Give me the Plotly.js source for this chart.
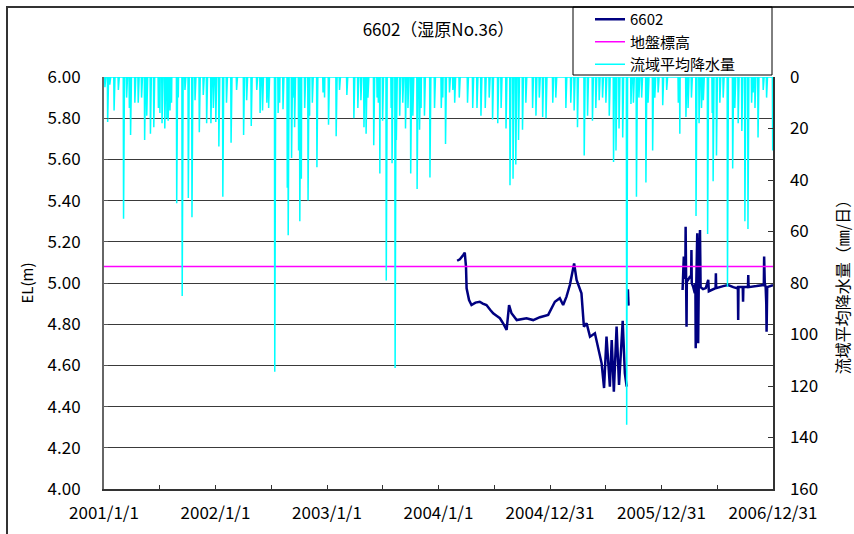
<!DOCTYPE html>
<html><head><meta charset="utf-8">
<script src="https://cdn.plot.ly/plotly-3.0.1.min.js"></script>
<style>
html,body{margin:0;padding:0;background:#fff;overflow:hidden;width:854px;height:534px}
#frame{position:absolute;left:6px;top:6px;width:900px;height:600px;border:2px solid #333;box-sizing:border-box}
#chart{position:absolute;left:0;top:0;width:854px;height:534px}
</style></head><body>
<div id="frame"></div>
<div id="chart"></div>
<script>
// ---- Data ----
const xTickVals = ['2001-01-01','2002-01-01','2003-01-01','2004-01-01','2004-12-31','2005-12-31','2006-12-31'];
const xTickText = ['2001/1/1','2002/1/1','2003/1/1','2004/1/1','2004/12/31','2005/12/31','2006/12/31'];

const groundLevel = 5.08; // 地盤標高

// 6602 water level (m)
const wlDates = [
 '2004-03-02','2004-03-11','2004-03-22','2004-03-27','2004-03-31','2004-04-02','2004-04-10','2004-04-18',
 '2004-05-01','2004-05-15','2004-05-25','2004-06-06','2004-06-18','2004-06-28','2004-07-10','2004-07-20',
 '2004-08-01','2004-08-11','2004-08-19','2004-08-27','2004-09-13','2004-09-28','2004-10-15','2004-11-06',
 '2004-11-28','2004-12-25','2005-01-16','2005-02-01','2005-02-12','2005-02-23','2005-03-06','2005-03-20',
 '2005-03-28','2005-04-13','2005-04-21','2005-04-30','2005-05-11','2005-05-27','2005-06-07','2005-06-18',
 '2005-06-26','2005-07-04','2005-07-15','2005-07-21','2005-07-28','2005-08-06','2005-08-14','2005-08-26',
 '2005-09-02','2005-09-08','2005-09-10','2005-09-12','2005-09-14','2005-09-16',
 '2006-03-10','2006-03-11','2006-03-14','2006-03-16','2006-03-19','2006-03-20','2006-03-21','2006-03-23',
 '2006-03-24','2006-03-28','2006-04-03','2006-04-07','2006-04-08','2006-04-09','2006-04-14','2006-04-19',
 '2006-04-21','2006-04-22','2006-04-24','2006-04-27','2006-04-28','2006-04-30','2006-05-02','2006-05-06',
 '2006-05-08','2006-05-16','2006-05-25','2006-06-02','2006-06-04','2006-06-18','2006-06-26','2006-06-27',
 '2006-06-28','2006-07-21','2006-08-06','2006-08-23','2006-09-03','2006-09-07','2006-09-08','2006-09-09',
 '2006-09-23','2006-09-24','2006-09-25','2006-10-10','2006-10-11','2006-10-12','2006-11-07','2006-11-29',
 '2006-12-01','2006-12-02','2006-12-04','2006-12-07','2006-12-09','2006-12-10','2006-12-12','2006-12-26',
 '2006-12-31'
];
const wlValues = [
 5.108,5.115,5.136,5.147,5.080,4.974,4.917,4.893,
 4.905,4.909,4.900,4.893,4.870,4.853,4.840,4.829,
 4.800,4.772,4.893,4.853,4.820,4.825,4.829,4.820,
 4.834,4.845,4.909,4.926,4.893,4.934,4.990,5.095,
 5.015,4.950,4.788,4.804,4.739,4.756,4.675,4.610,
 4.490,4.740,4.497,4.723,4.472,4.788,4.505,4.817,
 4.562,4.497,null,4.970,4.890,null,
 4.966,5.030,5.128,5.020,5.050,5.273,5.000,4.788,
 5.020,5.015,5.030,5.030,5.160,5.000,4.980,4.950,
 5.000,4.683,5.000,5.241,5.000,4.707,5.000,5.257,
 4.980,4.970,4.975,5.015,4.960,4.970,4.975,5.047,
 4.975,4.985,4.990,4.980,4.975,4.980,4.820,4.980,
 4.980,4.909,4.980,4.980,5.039,4.980,4.985,4.990,
 5.000,5.128,5.000,4.980,4.900,4.764,4.980,4.985,
 4.990
];

// 流域平均降水量 (mm/日): rain days; other days 0
const rainDates = [
 '2001-01-04','2001-01-13','2001-01-20','2001-02-03','2001-02-17','2001-03-06','2001-03-16','2001-03-25','2001-03-29',
 '2001-04-12','2001-04-23','2001-05-04','2001-05-14','2001-05-21','2001-06-02','2001-06-13','2001-06-28','2001-07-03',
 '2001-07-10','2001-07-19','2001-07-26','2001-07-30','2001-08-05','2001-08-10','2001-08-27','2001-09-01','2001-09-14',
 '2001-09-23','2001-10-04','2001-10-16','2001-10-26','2001-11-09','2001-11-22','2001-12-03','2001-12-17','2001-12-25',
 '2002-01-02','2002-01-12','2002-01-25','2002-02-06','2002-02-21','2002-03-11','2002-04-03','2002-04-13','2002-04-28',
 '2002-05-16','2002-05-27','2002-06-04','2002-06-18','2002-06-24','2002-07-14','2002-07-25','2002-07-30','2002-08-10',
 '2002-08-24','2002-08-27','2002-09-07','2002-09-11','2002-09-17','2002-09-30','2002-10-04','2002-10-09','2002-10-20',
 '2002-10-31','2002-11-05','2002-11-14','2002-11-29','2002-12-19','2002-12-24',
 '2003-01-06','2003-01-31','2003-02-11','2003-03-07','2003-03-30','2003-04-12','2003-04-22','2003-05-02','2003-05-09',
 '2003-05-15','2003-06-03','2003-06-14','2003-06-18','2003-06-23','2003-07-02','2003-07-14','2003-07-30','2003-08-02',
 '2003-08-12','2003-08-16','2003-08-27','2003-09-06','2003-09-15','2003-09-23','2003-10-02','2003-10-09','2003-10-23',
 '2003-10-31','2003-11-05','2003-11-16','2003-12-04','2003-12-19',
 '2004-01-10','2004-01-15','2004-01-24','2004-02-06','2004-02-17','2004-02-23','2004-03-09','2004-04-05','2004-04-22',
 '2004-05-06','2004-05-19','2004-06-02','2004-06-15','2004-06-26','2004-07-13','2004-07-24','2004-08-09','2004-08-22',
 '2004-09-01','2004-09-10','2004-09-19','2004-10-02','2004-10-13','2004-11-04','2004-11-15','2004-11-26','2004-12-07',
 '2004-12-18',
 '2005-01-09','2005-01-19','2005-02-21','2005-03-09','2005-03-20','2005-03-31','2005-04-22','2005-05-03','2005-05-19',
 '2005-05-30','2005-06-10','2005-06-21','2005-07-02','2005-07-13','2005-07-27','2005-08-04','2005-08-14','2005-08-26',
 '2005-09-08','2005-09-22','2005-09-30','2005-10-10','2005-10-18','2005-10-27','2005-11-10','2005-11-17','2005-12-02',
 '2005-12-09','2005-12-20',
 '2006-01-04','2006-01-17','2006-02-24','2006-03-01','2006-03-21','2006-03-28','2006-04-08','2006-04-23','2006-05-03',
 '2006-05-11','2006-05-17','2006-05-31','2006-06-15','2006-06-18','2006-06-29','2006-07-10','2006-07-21','2006-08-04',
 '2006-08-21','2006-08-28','2006-09-08','2006-09-20','2006-09-30','2006-10-10','2006-10-22','2006-10-27','2006-11-02',
 '2006-11-12','2006-11-29','2006-12-10','2006-12-30'
];
const rainValues = [
 4,17.5,3,13,5,55,8,12,22.5,
 10,10,8,24.5,15,22,19.5,12,14,
 18,20,16,17,13,10,49,8,85,
 5,47,54.5,9,21.5,7,18,18,12,
 17.5,27,46.5,10,25.5,5,22.5,9,19,
 5,14,13,10,12,114.5,14,10,12.5,
 43,61.5,31.5,8,19.5,28.5,56,39.5,12,
 48,15,10,35,6,8,
 18.5,23,5,7,16,12,9,19.5,22,
 8,26.5,8,10,37.5,17,79,12,33.5,
 113,24.5,15,10,20,12,37.5,15,43.5,
 20.5,12,15,39,12,
 12,8,26,6,5,10,8,10,12,
 12,15,12,8,16.5,18,12,20,42,
 39.5,34,24.5,20.5,10,12,15,8,15.5,
 16,
 10,8,12,10,13,19.5,30.5,15,17,
 12,9,8,10,15,33,28.5,20,23.5,
 135,10.5,10,46.5,8,8,41,10,28.5,
 8,6,
 11,5,10,22,15.5,12,8,54,18,
 12,9,61,14,40.5,30.5,10,8,81.5,
 35.5,12,18,21,56,59,10,6,12,
 23.5,5,8,28.5
];

// ---- Build daily rainfall table from the read values ----
const rainMap = {};
rainDates.forEach((d, i) => { rainMap[d] = Math.max(rainMap[d] || 0, rainValues[i]); });
const dayX = [], dayY = [];
for (let t = Date.UTC(2001, 0, 1); t <= Date.UTC(2006, 11, 31); t += 864e5) {
  const s = new Date(t).toISOString().slice(0, 10);
  dayX.push(s); dayY.push(rainMap[s] || 0);
}

const FONT = '"Noto Sans CJK JP", "Noto Sans", sans-serif';

// paper spans y = 0..489 px (margin t = 0); plot area occupies 77..489 px
const PAPER_H = 489;
const py = (pix) => (PAPER_H - pix) / PAPER_H;      // pixel row -> paper fraction
const px = (pix) => (pix - 104) / 669;              // pixel col -> paper fraction
const domTop = py(77);

const traces = [
  {x: wlDates, y: wlValues, name: '6602', type: 'scatter', mode: 'lines',
   line: {color: '#000080', width: 2.5}, connectgaps: false, yaxis: 'y'},
  {x: [xTickVals[0], xTickVals[xTickVals.length - 1]], y: [groundLevel, groundLevel], name: '地盤標高',
   type: 'scatter', mode: 'lines', line: {color: '#FF00FF', width: 1.5}, yaxis: 'y'},
  {x: dayX, y: dayY, name: '流域平均降水量', type: 'scatter', mode: 'lines',
   line: {color: '#00FFFF', width: 1.5}, yaxis: 'y2'}
];

const layout = {
  width: 854, height: 534,
  margin: {l: 104, r: 81, t: 0, b: 45, pad: 0},
  paper_bgcolor: 'rgba(0,0,0,0)', plot_bgcolor: 'rgba(0,0,0,0)',
  font: {family: FONT, size: 15, color: '#000'},
  title: {text: '6602（湿原No.36）', x: 0.5, xref: 'paper', xanchor: 'center',
          y: 1 - 30 / 534, yref: 'container', yanchor: 'middle', font: {family: FONT, size: 17, color: '#000'}},
  showlegend: true,
  legend: {x: px(590), y: py(3), xanchor: 'left', yanchor: 'top',
           bgcolor: 'rgba(0,0,0,0)', borderwidth: 0, font: {family: FONT, size: 15, color: '#000'},
           tracegroupgap: 0, itemwidth: 30},
  shapes: [{type: 'rect', xref: 'paper', yref: 'paper',
            x0: px(573), x1: px(772), y0: py(75), y1: py(7),
            line: {color: '#000', width: 1}, fillcolor: 'rgba(0,0,0,0)', layer: 'above'}],
  xaxis: {type: 'date', range: [xTickVals[0], xTickVals[xTickVals.length - 1]], automargin: false,
          tickmode: 'array', tickvals: xTickVals, ticktext: xTickText, tickangle: 0,
          ticks: 'inside', ticklen: 4, tickwidth: 1, tickcolor: '#333',
          showgrid: false, zeroline: false, showline: true, linecolor: '#333', linewidth: 1.5,
          minor: {ticks: 'inside', ticklen: 4, tickcolor: '#333', tick0: '2001-01-01', dtick: 182.5 * 864e5, showgrid: false},
          tickfont: {family: FONT, size: 17, color: '#000'}, ticklabelstandoff: 8},
  yaxis: {domain: [0, domTop], range: [4, 6], tick0: 4, dtick: 0.2, tickformat: '.2f', automargin: false,
          showgrid: true, gridcolor: '#3a3a3a', gridwidth: 1, zeroline: false,
          ticks: 'inside', ticklen: 4, tickcolor: '#555', showline: true, linecolor: '#666', linewidth: 2,
          tickfont: {family: FONT, size: 17, color: '#000'}, ticklabelstandoff: 18,
          title: {text: 'EL(m)', standoff: 10, font: {family: FONT, size: 15, color: '#000'}}},
  yaxis2: {domain: [0, domTop], overlaying: 'y', side: 'right', range: [160, 0], tick0: 0, dtick: 20, automargin: false,
           showgrid: false, zeroline: false, ticks: 'inside', ticklen: 5, tickcolor: '#333',
           showline: true, linecolor: '#333', linewidth: 1.5,
           tickfont: {family: FONT, size: 17, color: '#000'}, ticklabelstandoff: 12,
           title: {text: '流域平均降水量（㎜/日）', standoff: 20, font: {family: FONT, size: 16, color: '#000'}}}
};

Plotly.newPlot('chart', traces, layout, {displayModeBar: false, staticPlot: true});
</script>
</body></html>
